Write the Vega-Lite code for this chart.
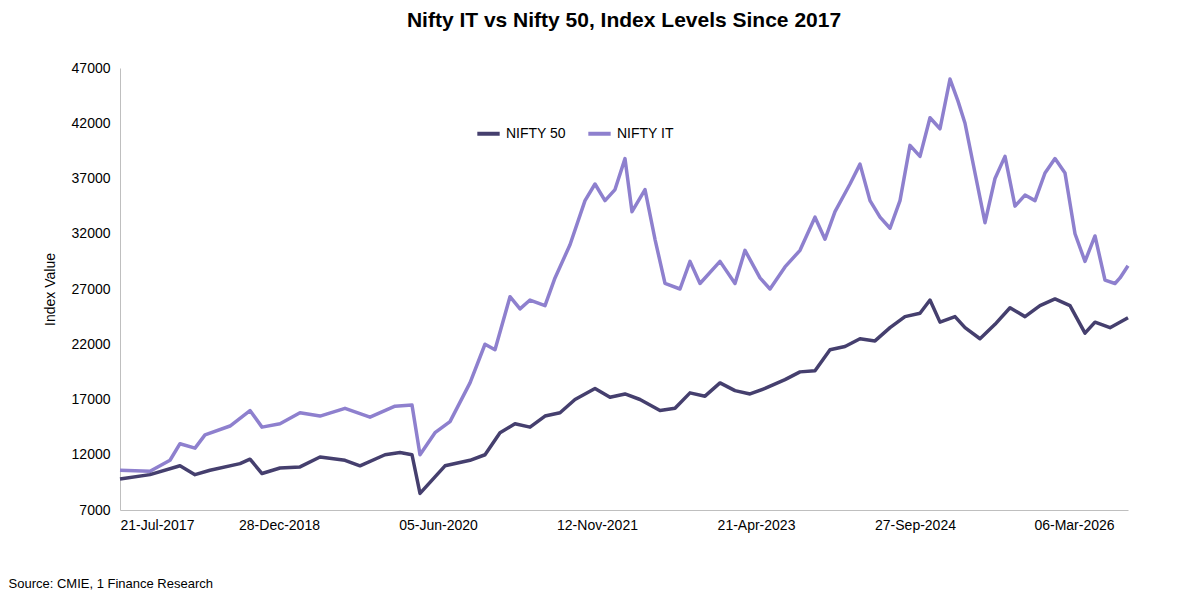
{
  "$schema": "https://vega.github.io/schema/vega-lite/v6.json",
  "autosize": "none",
  "width": 1008,
  "height": 442,
  "padding": {"left": 120, "top": 68, "right": 72, "bottom": 94},
  "background": "white",
  "config": {"view": {"stroke": null}, "font": "Liberation Sans"},
  "title": {"text": "Nifty IT vs Nifty 50, Index Levels Since 2017", "fontSize": 21, "fontWeight": "bold", "color": "black", "anchor": "middle", "offset": 30},
  "data": {"values": [
    {"s":"NIFTY IT","px":120,"v":10600},{"s":"NIFTY IT","px":150,"v":10500},{"s":"NIFTY IT","px":170,"v":11500},{"s":"NIFTY IT","px":180,"v":13000},{"s":"NIFTY IT","px":195,"v":12600},{"s":"NIFTY IT","px":205,"v":13800},{"s":"NIFTY IT","px":230,"v":14600},{"s":"NIFTY IT","px":250,"v":16000},{"s":"NIFTY IT","px":262,"v":14500},{"s":"NIFTY IT","px":280,"v":14800},{"s":"NIFTY IT","px":300,"v":15800},{"s":"NIFTY IT","px":320,"v":15500},{"s":"NIFTY IT","px":345,"v":16200},{"s":"NIFTY IT","px":370,"v":15400},{"s":"NIFTY IT","px":395,"v":16400},{"s":"NIFTY IT","px":412,"v":16500},{"s":"NIFTY IT","px":420,"v":12000},{"s":"NIFTY IT","px":435,"v":14000},{"s":"NIFTY IT","px":450,"v":15000},{"s":"NIFTY IT","px":470,"v":18500},{"s":"NIFTY IT","px":485,"v":22000},{"s":"NIFTY IT","px":495,"v":21500},{"s":"NIFTY IT","px":510,"v":26300},{"s":"NIFTY IT","px":520,"v":25200},{"s":"NIFTY IT","px":530,"v":26000},{"s":"NIFTY IT","px":545,"v":25500},{"s":"NIFTY IT","px":555,"v":28000},{"s":"NIFTY IT","px":570,"v":31000},{"s":"NIFTY IT","px":585,"v":35000},{"s":"NIFTY IT","px":595,"v":36500},{"s":"NIFTY IT","px":605,"v":35000},{"s":"NIFTY IT","px":615,"v":36000},{"s":"NIFTY IT","px":625,"v":38800},{"s":"NIFTY IT","px":632,"v":34000},{"s":"NIFTY IT","px":645,"v":36000},{"s":"NIFTY IT","px":655,"v":31500},{"s":"NIFTY IT","px":665,"v":27500},{"s":"NIFTY IT","px":680,"v":27000},{"s":"NIFTY IT","px":690,"v":29500},{"s":"NIFTY IT","px":700,"v":27500},{"s":"NIFTY IT","px":720,"v":29500},{"s":"NIFTY IT","px":735,"v":27500},{"s":"NIFTY IT","px":745,"v":30500},{"s":"NIFTY IT","px":760,"v":28000},{"s":"NIFTY IT","px":770,"v":27000},{"s":"NIFTY IT","px":785,"v":29000},{"s":"NIFTY IT","px":800,"v":30500},{"s":"NIFTY IT","px":815,"v":33500},{"s":"NIFTY IT","px":825,"v":31500},{"s":"NIFTY IT","px":835,"v":34000},{"s":"NIFTY IT","px":850,"v":36500},{"s":"NIFTY IT","px":860,"v":38300},{"s":"NIFTY IT","px":870,"v":35000},{"s":"NIFTY IT","px":880,"v":33500},{"s":"NIFTY IT","px":890,"v":32500},{"s":"NIFTY IT","px":900,"v":35000},{"s":"NIFTY IT","px":910,"v":40000},{"s":"NIFTY IT","px":920,"v":39000},{"s":"NIFTY IT","px":930,"v":42500},{"s":"NIFTY IT","px":940,"v":41500},{"s":"NIFTY IT","px":950,"v":46000},{"s":"NIFTY IT","px":958,"v":44000},{"s":"NIFTY IT","px":965,"v":42000},{"s":"NIFTY IT","px":975,"v":37500},{"s":"NIFTY IT","px":985,"v":33000},{"s":"NIFTY IT","px":995,"v":37000},{"s":"NIFTY IT","px":1005,"v":39000},{"s":"NIFTY IT","px":1015,"v":34500},{"s":"NIFTY IT","px":1025,"v":35500},{"s":"NIFTY IT","px":1035,"v":35000},{"s":"NIFTY IT","px":1045,"v":37500},{"s":"NIFTY IT","px":1055,"v":38800},{"s":"NIFTY IT","px":1065,"v":37500},{"s":"NIFTY IT","px":1075,"v":32000},{"s":"NIFTY IT","px":1085,"v":29500},{"s":"NIFTY IT","px":1095,"v":31800},{"s":"NIFTY IT","px":1105,"v":27800},{"s":"NIFTY IT","px":1115,"v":27500},{"s":"NIFTY IT","px":1120,"v":28000},{"s":"NIFTY IT","px":1128,"v":29100},
    {"s":"NIFTY 50","px":120,"v":9800},{"s":"NIFTY 50","px":150,"v":10200},{"s":"NIFTY 50","px":180,"v":11000},{"s":"NIFTY 50","px":195,"v":10200},{"s":"NIFTY 50","px":210,"v":10600},{"s":"NIFTY 50","px":240,"v":11200},{"s":"NIFTY 50","px":250,"v":11600},{"s":"NIFTY 50","px":262,"v":10300},{"s":"NIFTY 50","px":280,"v":10800},{"s":"NIFTY 50","px":300,"v":10900},{"s":"NIFTY 50","px":320,"v":11800},{"s":"NIFTY 50","px":345,"v":11500},{"s":"NIFTY 50","px":360,"v":11000},{"s":"NIFTY 50","px":385,"v":12000},{"s":"NIFTY 50","px":400,"v":12200},{"s":"NIFTY 50","px":412,"v":12000},{"s":"NIFTY 50","px":420,"v":8500},{"s":"NIFTY 50","px":430,"v":9500},{"s":"NIFTY 50","px":445,"v":11000},{"s":"NIFTY 50","px":470,"v":11500},{"s":"NIFTY 50","px":485,"v":12000},{"s":"NIFTY 50","px":500,"v":14000},{"s":"NIFTY 50","px":515,"v":14800},{"s":"NIFTY 50","px":530,"v":14500},{"s":"NIFTY 50","px":545,"v":15500},{"s":"NIFTY 50","px":560,"v":15800},{"s":"NIFTY 50","px":575,"v":17000},{"s":"NIFTY 50","px":595,"v":18000},{"s":"NIFTY 50","px":610,"v":17200},{"s":"NIFTY 50","px":625,"v":17500},{"s":"NIFTY 50","px":640,"v":17000},{"s":"NIFTY 50","px":660,"v":16000},{"s":"NIFTY 50","px":675,"v":16200},{"s":"NIFTY 50","px":690,"v":17600},{"s":"NIFTY 50","px":705,"v":17300},{"s":"NIFTY 50","px":720,"v":18500},{"s":"NIFTY 50","px":735,"v":17800},{"s":"NIFTY 50","px":750,"v":17500},{"s":"NIFTY 50","px":765,"v":18000},{"s":"NIFTY 50","px":785,"v":18800},{"s":"NIFTY 50","px":800,"v":19500},{"s":"NIFTY 50","px":815,"v":19600},{"s":"NIFTY 50","px":830,"v":21500},{"s":"NIFTY 50","px":845,"v":21800},{"s":"NIFTY 50","px":860,"v":22500},{"s":"NIFTY 50","px":875,"v":22300},{"s":"NIFTY 50","px":890,"v":23500},{"s":"NIFTY 50","px":905,"v":24500},{"s":"NIFTY 50","px":920,"v":24800},{"s":"NIFTY 50","px":930,"v":26000},{"s":"NIFTY 50","px":940,"v":24000},{"s":"NIFTY 50","px":955,"v":24500},{"s":"NIFTY 50","px":965,"v":23500},{"s":"NIFTY 50","px":980,"v":22500},{"s":"NIFTY 50","px":995,"v":23800},{"s":"NIFTY 50","px":1010,"v":25300},{"s":"NIFTY 50","px":1025,"v":24500},{"s":"NIFTY 50","px":1040,"v":25500},{"s":"NIFTY 50","px":1055,"v":26100},{"s":"NIFTY 50","px":1070,"v":25500},{"s":"NIFTY 50","px":1085,"v":23000},{"s":"NIFTY 50","px":1095,"v":24000},{"s":"NIFTY 50","px":1110,"v":23500},{"s":"NIFTY 50","px":1128,"v":24400}
  ]},
  "mark": {"type": "line", "strokeWidth": 3.5, "strokeJoin": "round"},
  "encoding": {
    "x": {"field": "px", "type": "quantitative", "scale": {"domain": [120, 1128], "nice": false, "zero": false},
      "axis": {"values": [120, 279, 438, 597, 756, 915, 1074], "labelExpr": "timeFormat(datetime(2017, 6, 21 + round((datum.value - 120) * 525 / 159)), '%d-%b-%Y')",
        "grid": false, "ticks": false, "domainColor": "#bfbfbf", "labelFontSize": 14, "labelColor": "black", "labelPadding": 8,
        "title": "Source: CMIE, 1 Finance Research", "titleFontSize": 13, "titleFontWeight": "normal", "titleColor": "black", "titleAnchor": "start", "titleAlign": "left", "titleBaseline": "middle", "titleX": -112, "titleY": 73}},
    "y": {"field": "v", "type": "quantitative", "scale": {"domain": [7000, 47000], "nice": false, "zero": false},
      "axis": {"values": [7000, 12000, 17000, 22000, 27000, 32000, 37000, 42000, 47000], "format": "d", "grid": false, "ticks": false, "domainColor": "#bfbfbf",
        "labelFontSize": 14, "labelColor": "black", "labelPadding": 10, "title": "Index Value", "titleFontSize": 14, "titleFontWeight": "normal", "titleColor": "black", "titlePadding": 14}},
    "color": {"field": "s", "type": "nominal", "scale": {"domain": ["NIFTY 50", "NIFTY IT"], "range": ["#453F6E", "#8E80CE"]},
      "legend": {"orient": "none", "legendX": 355, "legendY": 52, "direction": "horizontal", "title": null, "symbolType": "stroke", "symbolStrokeWidth": 4, "symbolSize": 500, "labelFontSize": 14, "labelColor": "black", "columnPadding": 14}}
  }
}
